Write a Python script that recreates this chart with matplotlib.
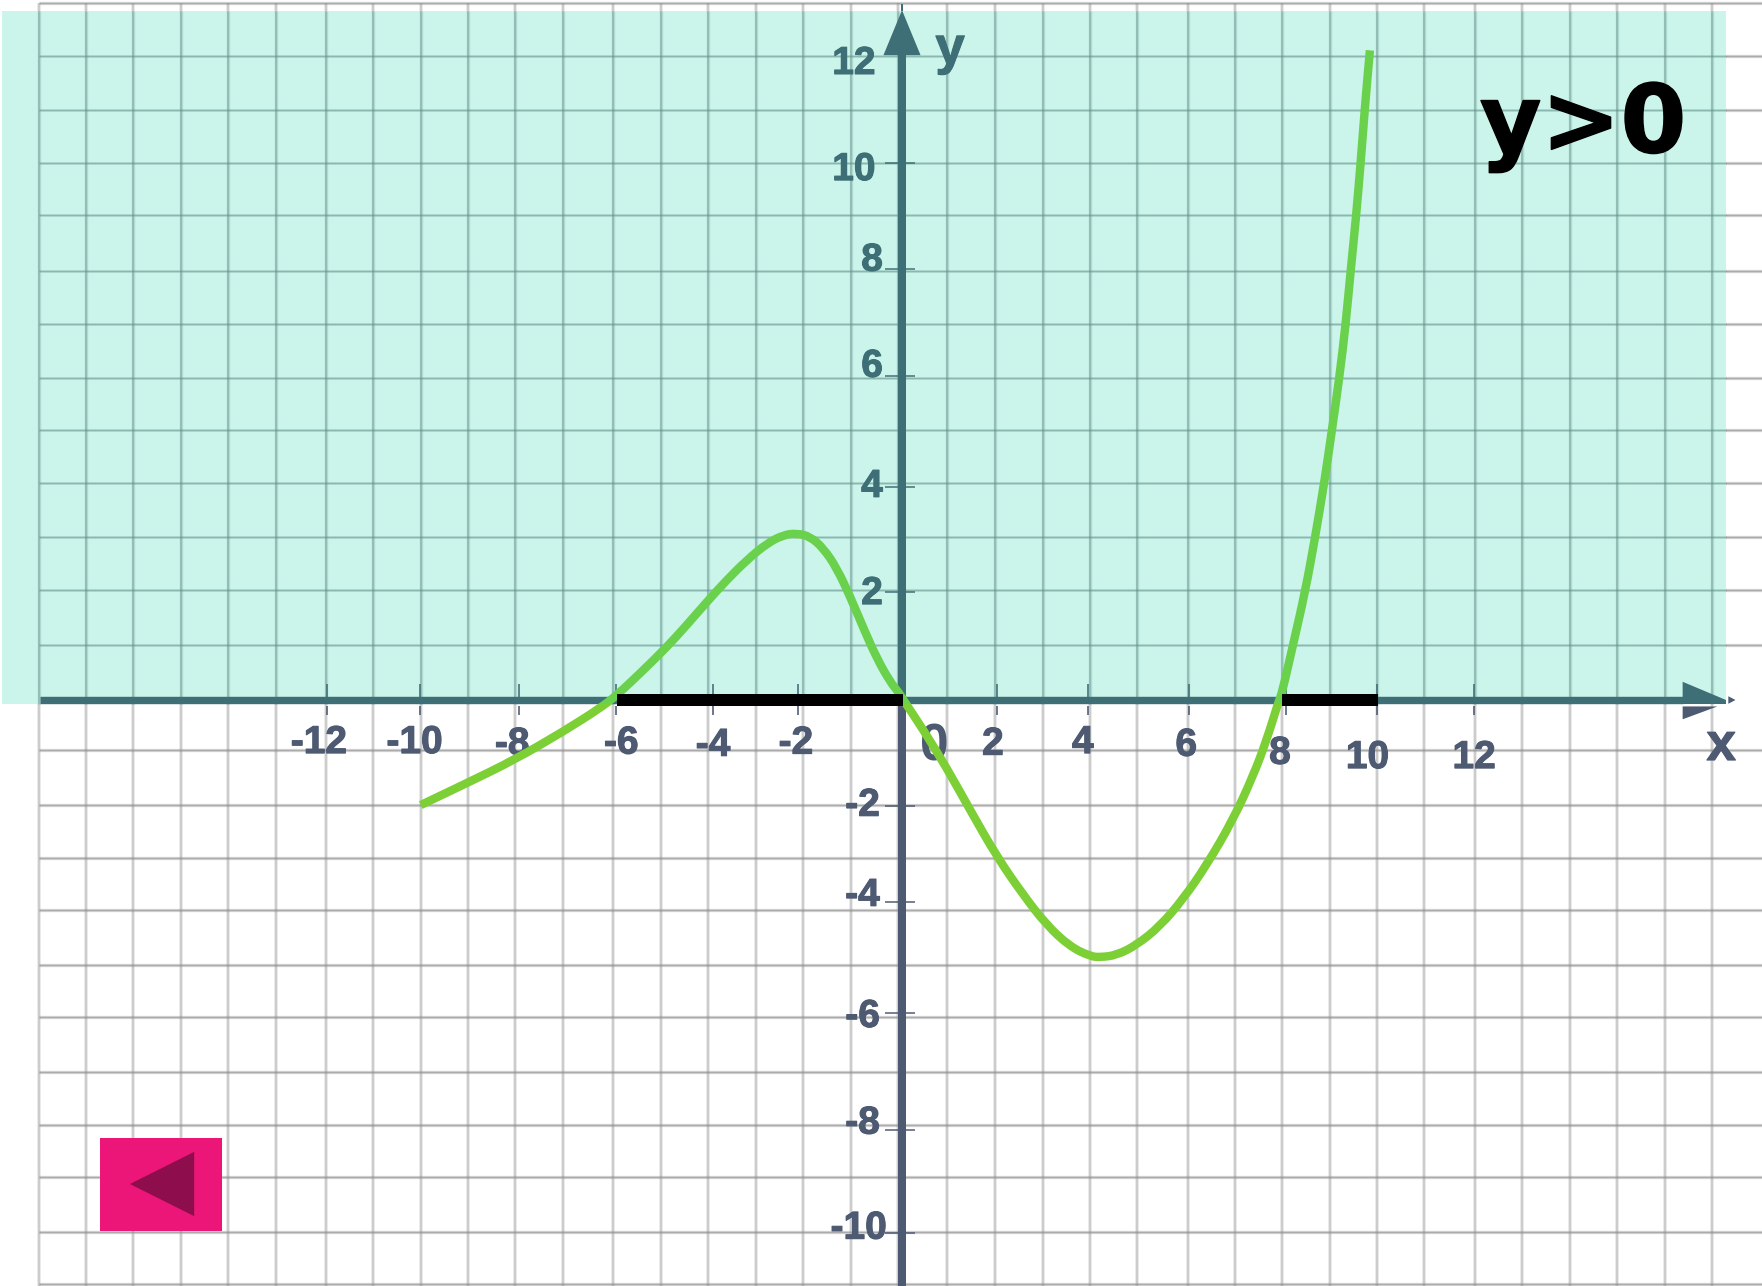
import matplotlib
matplotlib.use("Agg")
import matplotlib.pyplot as plt
import matplotlib.patheffects as pe
from matplotlib.patches import PathPatch, Polygon, Rectangle
from matplotlib.path import Path

# values, one grid cell = 1 unit
curve_x = [-10.11, -9.14, -8.13, -7.12, -6.34, -5.99, -5.43, -4.94, -4.52, -4.10, -3.68, -3.26,
           -2.84, -2.49, -2.21, -1.93, -1.65, -1.37, -1.09, -0.81, -0.53, -0.25, -0.06, 0.03,
           0.45, 0.94, 1.43, 1.99, 2.55, 3.04, 3.53, 3.95, 4.16, 4.51, 4.93, 5.42, 5.90, 6.40,
           6.95, 7.37, 7.66, 7.92, 7.98, 8.21, 8.47, 8.68, 8.87, 9.03, 9.19, 9.32, 9.43, 9.54,
           9.64, 9.73, 9.83]
curve_y = [-1.96, -1.55, -1.11, -0.59, -0.15, 0.09, 0.56, 0.99, 1.40, 1.83, 2.24, 2.61,
           2.92, 3.08, 3.11, 3.05, 2.83, 2.46, 1.93, 1.34, 0.78, 0.34, 0.13, 0.0,
           -0.56, -1.27, -2.05, -2.92, -3.64, -4.20, -4.60, -4.78, -4.80, -4.76, -4.57, -4.22,
           -3.72, -3.08, -2.24, -1.43, -0.75, 0.0, 0.12, 1.01, 2.02, 3.04, 4.05, 5.02, 6.03,
           7.00, 8.05, 9.02, 10.07, 11.12, 12.12]

positive_from = [-5.98, 7.98]
positive_to = [0.03, 10.0]

grid_x = [-18.13, -17.14, -16.16, -15.15, -14.15, -13.15, -12.10, -11.11, -10.11, -9.12, -8.12,
          -7.12, -6.07, -5.07, -4.08, -3.07, -2.08, -1.08, -0.08, 0.95, 1.95, 2.96, 3.95, 4.94,
          6.00, 7.00, 7.99, 8.99, 9.98, 10.97, 12.04, 13.03, 14.03, 15.02, 16.03, 17.02]
grid_y = [13.00, 12.01, 11.01, 10.02, 9.04, 8.01, 7.02, 6.01, 5.04, 4.05, 3.04, 2.05, 1.03,
          -0.93, -1.96, -2.94, -3.92, -4.94, -5.91, -6.94, -7.93, -8.90, -9.93, -10.90]

x_labels = ["-12", "-10", "-8", "-6", "-4", "-2", "2", "4", "6", "8", "10", "12"]
x_label_x = [-12.25, -10.24, -8.19, -5.90, -3.97, -2.23, 1.91, 3.80, 5.97, 7.94, 9.78, 12.02]
x_label_y = [-0.75, -0.75, -0.78, -0.76, -0.80, -0.76, -0.78, -0.75, -0.80, -0.95, -1.03, -1.03]
x_ticks = [-12.08, -10.13, -8.05, -6.01, -3.97, -2.19, 1.99, 3.91, 6.03, 8.06, 9.98, 12.02]

y_labels = ["12", "10", "8", "6", "4", "2", "-2", "-4", "-6", "-8", "-10"]
y_label_x = [-1.01, -1.01, -0.63, -0.63, -0.63, -0.63, -0.83, -0.83, -0.83, -0.83, -0.91]
y_label_y = [11.92, 9.94, 8.25, 6.27, 4.03, 2.03, -1.92, -3.60, -5.86, -7.85, -9.81]
y_ticks = [10.02, 8.04, 6.04, 3.97, 2.02, -1.98, -3.77, -5.84, -8.02, -9.94]

plt.rcParams["font.family"] = ["Liberation Sans", "DejaVu Sans"]

TEAL = "#3e6e76"
SLATE = "#4d5a72"
UX, UY = 47.6, 53.6   # pixels per unit
px = 0.72             # one pixel in points at dpi 100

fig = plt.figure(figsize=(17.62, 12.86), dpi=100, facecolor="white")
ax = fig.add_axes([0, 0, 1, 1])
ax.set_xlim(-902 / UX, 860 / UX)
ax.set_ylim(-586 / UY, 700 / UY)
ax.axis("off")


def draw_grid(ymin, ymax, color, z):
    for lw, a in [(3.8, 0.2), (1.7, 0.36)]:
        ax.vlines(grid_x, ymin, ymax, color=color, lw=lw * px, alpha=a, zorder=z)
    for lw, a in [(3.2, 0.2), (1.3, 0.36)]:
        ax.hlines(grid_y, -18.13, 18.07, color=color, lw=lw * px, alpha=a, zorder=z)


draw_grid(-0.12, 13.0, "#8f8f8f", 1)
draw_grid(-10.93, -0.12, "#8f8f8f", 1)

# shaded half plane y > 0
ax.add_patch(Rectangle((-18.9, -0.075), 36.21, 12.93, fc="#cbf4ea", ec="none", zorder=2))
band_y = [v for v in grid_y if 0 < v < 12.85]
for lw, a in [(3.4, 0.25), (1.6, 0.45)]:
    ax.vlines(grid_x, -0.075, 12.85, color="#5f8f88", lw=lw * px, alpha=a, zorder=3)
for lw, a in [(2.8, 0.25), (1.3, 0.45)]:
    ax.hlines(band_y, -18.13, 17.31, color="#5f8f88", lw=lw * px, alpha=a, zorder=3)

# axes, teal over the band and slate below it
ax.plot([-18.11, 16.4], [0, 0], color=TEAL, lw=7.4 * px, solid_capstyle="butt", zorder=4)
ax.plot([0, 0], [-0.12, -10.93], color=SLATE, lw=8 * px, solid_capstyle="butt", zorder=4)
ax.plot([0, 0], [-0.075, 12.2], color=TEAL, lw=8 * px, solid_capstyle="butt", zorder=4)
ax.add_patch(Polygon([(-0.39, 12.03), (0.39, 12.03), (0, 12.87)], fc=TEAL, ec="none", zorder=4))
ax.add_patch(Polygon([(16.4, 0.34), (17.31, 0.0), (17.31, -0.075), (16.4, -0.075)], fc=TEAL, ec="none", zorder=4))
ax.add_patch(Polygon([(16.4, -0.12), (17.13, -0.12), (16.4, -0.36)], fc=SLATE, ec="none", zorder=4))
ax.add_patch(Polygon([(17.36, 0.07), (17.51, 0.0), (17.36, -0.07)], fc=SLATE, ec="none", zorder=4))
ax.plot([0, 0], [12.87, 12.97], color=TEAL, lw=2 * px, zorder=4)

# ticks
for v in x_ticks:
    ax.plot([v, v], [0.3, 0.05], color=TEAL, lw=1.6 * px, solid_capstyle="butt", zorder=3.5)
    ax.plot([v, v], [-0.12, -0.28], color=SLATE, lw=1.6 * px, solid_capstyle="butt", zorder=3.5)
for v in y_ticks:
    ax.plot([-0.36, 0.27], [v, v], color=TEAL if v > 0 else SLATE, lw=1.5 * px, solid_capstyle="butt", zorder=3.5)

# labels sit under the curve
stroke = [pe.withStroke(linewidth=1.1 * px, foreground=SLATE)]
stroke_teal = [pe.withStroke(linewidth=1.1 * px, foreground=TEAL)]
for s, x, y in zip(x_labels, x_label_x, x_label_y):
    ax.text(x, y - 0.24, s, color=SLATE, fontsize=28, fontweight="bold", ha="center", va="baseline",
            zorder=4.5, path_effects=stroke)
for s, x, y in zip(y_labels, y_label_x, y_label_y):
    above = y > 0
    ax.text(x, y - 0.24, s, color=TEAL if above else SLATE, fontsize=28, fontweight="bold",
            ha="center", va="baseline", zorder=4.5, path_effects=stroke_teal if above else stroke)
ax.text(0.67, -1.12, "0", color=SLATE, fontsize=37, fontweight="bold", ha="center", va="baseline", zorder=4.5)
ax.text(17.21, -1.12, "x", color=SLATE, fontsize=38, fontweight="bold", ha="center", va="baseline", zorder=7,
        path_effects=stroke)
ax.text(1.01, 11.87, "y", color=TEAL, fontsize=38, fontweight="bold", ha="center", va="baseline", zorder=7,
        path_effects=stroke_teal)
ax.text(12.14, 10.22, "y>0", color="black", fontsize=68, fontweight="bold", family="DejaVu Sans",
        ha="left", va="baseline", zorder=7,
        path_effects=[pe.withStroke(linewidth=1.5 * px, foreground="black")])

# curve: read points act as control points of a smooth path, lighter below the axis
verts = [(curve_x[0], curve_y[0])]
codes = [Path.MOVETO]
for i in range(1, len(curve_x) - 1):
    mid = ((curve_x[i] + curve_x[i + 1]) / 2, (curve_y[i] + curve_y[i + 1]) / 2)
    verts += [(curve_x[i], curve_y[i]), mid]
    codes += [Path.CURVE3, Path.CURVE3]
verts.append((curve_x[-1], curve_y[-1]))
codes.append(Path.LINETO)
for col, low, height in [("#69d14b", -0.075, 14), ("#7ccf35", -12, 11.925)]:
    patch = PathPatch(Path(verts, codes), fc="none", ec=col, lw=8.4 * px, capstyle="butt",
                      joinstyle="round", zorder=5)
    ax.add_patch(patch)
    patch.set_clip_path(Rectangle((-19, low), 38, height, transform=ax.transData))

# solution intervals
for a, b in zip(positive_from, positive_to):
    ax.plot([a, b], [0, 0], color="black", lw=12 * px, solid_capstyle="butt", zorder=6)

# back button
ax.add_patch(Rectangle((-16.85, -9.91), 2.56, 1.74, fc="#ec1679", ec="none", zorder=7))
ax.add_patch(Polygon([(-16.22, -9.03), (-14.87, -8.43), (-14.87, -9.63)], fc="#8e0d4c", ec="none", zorder=8))

fig.savefig("out.png", dpi=100, facecolor="white")
plt.close(fig)
